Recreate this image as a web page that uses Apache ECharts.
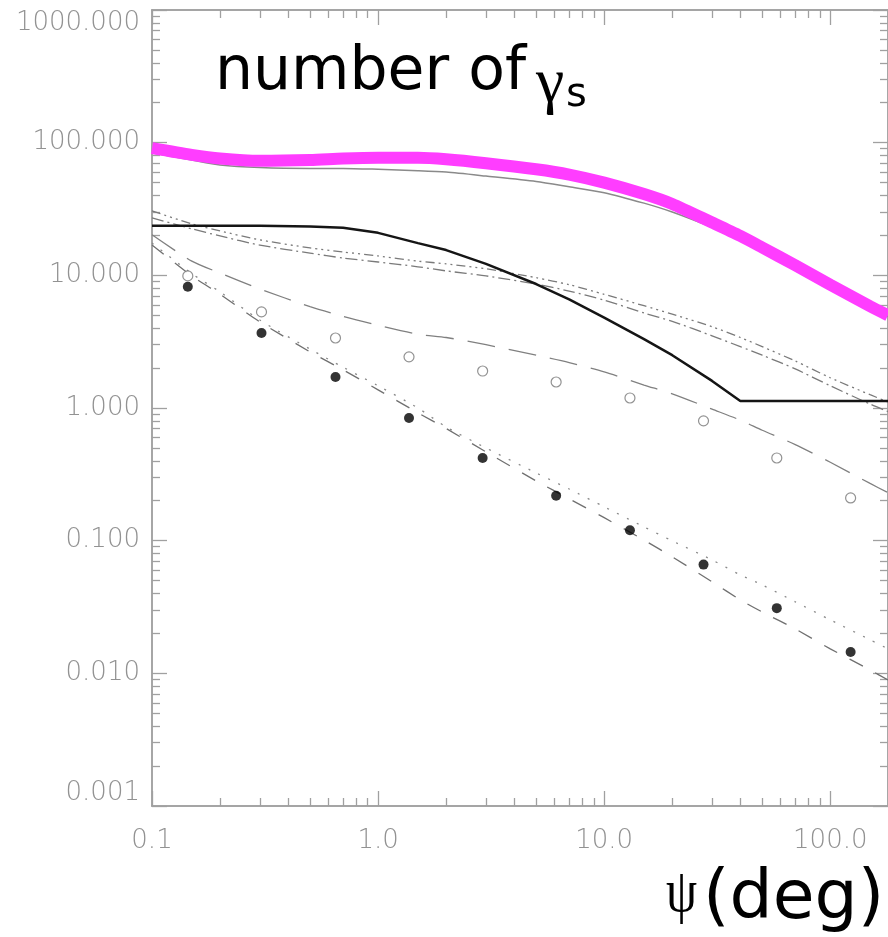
<!DOCTYPE html>
<html>
<head>
<meta charset="utf-8">
<script src="https://cdn.jsdelivr.net/npm/echarts@6.0.0/dist/echarts.min.js"></script>
<style>
html, body { margin: 0; padding: 0; background: #fff; }
#chart { width: 888px; height: 937px; }
</style>
</head>
<body>
<div id="chart"></div>
<script>
// angle grid shared by the curves (deg)
var psi = [0.1, 0.15, 0.2, 0.3, 0.5, 0.7, 1, 1.5, 2, 3, 5, 7, 10, 15, 20, 30, 40, 50, 70, 100, 150, 180];

var total      = [91, 81, 76, 73, 74, 76, 77, 77, 75, 70, 63, 57.5, 50, 41, 34.5, 25, 19.8, 16.2, 11.9, 8.5, 5.85, 5.0];
var thinSum    = [84, 74, 68, 65, 64, 64, 63, 61.5, 60, 56, 51, 46.5, 42, 35, 30, 23, 18.6, 15.5, 11.5, 8.3, 5.7, 4.9];
var blackSolid = [23.6, 23.6, 23.6, 23.6, 23.3, 22.8, 20.9, 17.5, 15.5, 12.2, 8.6, 6.6, 4.8, 3.3, 2.5, 1.6, 1.13, 1.13, 1.13, 1.13, 1.13, 1.13];
var dashDot3   = [30.6, 24.4, 21.6, 18.5, 16.1, 15.0, 14.0, 12.8, 12.2, 11.2, 9.6, 8.5, 7.2, 5.9, 5.1, 4.1, 3.4, 2.9, 2.26, 1.69, 1.26, 1.11];
var dashDot    = [27.1, 22.4, 19.8, 16.9, 14.7, 13.5, 12.6, 11.6, 10.8, 9.9, 8.6, 7.6, 6.5, 5.2, 4.5, 3.5, 2.9, 2.5, 1.97, 1.47, 1.07, 0.94];
var longDash   = [20.2, 12.8, 10.4, 7.9, 5.8, 4.9, 4.2, 3.6, 3.4, 3.0, 2.5, 2.2, 1.87, 1.49, 1.28, 0.98, 0.81, 0.68, 0.53, 0.39, 0.27, 0.23];
var dashed     = [16.9, 9.9, 7.2, 4.46, 2.65, 1.94, 1.37, 0.92, 0.70, 0.467, 0.282, 0.207, 0.149, 0.101, 0.0755, 0.049, 0.0358, 0.029, 0.0216, 0.0153, 0.0106, 0.0089];
var dotted     = [17.5, 10.3, 7.5, 4.6, 2.78, 2.03, 1.47, 1.00, 0.72, 0.50, 0.324, 0.245, 0.180, 0.127, 0.0996, 0.0716, 0.0552, 0.0464, 0.0346, 0.0253, 0.0179, 0.0153];

// symbols
var psiPts    = [0.144, 0.305, 0.648, 1.37, 2.9, 6.13, 13.0, 27.5, 58, 123];
var openPts   = [9.9, 5.3, 3.37, 2.43, 1.90, 1.57, 1.19, 0.80, 0.42, 0.21];
var filledPts = [8.2, 3.68, 1.71, 0.84, 0.42, 0.218, 0.120, 0.066, 0.031, 0.0145];

// axis ticks
var xMajor = [0.1, 1, 10, 100];
var yMajor = [0.001, 0.01, 0.1, 1, 10, 100, 1000];

function zip(xs, ys) {
    return xs.map(function (x, i) { return [x, ys[i]]; });
}
function minors(decades, upTo) {
    var out = [];
    decades.forEach(function (d) {
        for (var k = 2; k <= 9; k++) {
            var v = +(d * k).toPrecision(3);
            if (v <= upTo) out.push(v);
        }
    });
    return out;
}
var xMinor = minors([0.1, 1, 10, 100], 180);
var yMinor = minors([0.001, 0.01, 0.1, 1, 10, 100], 1000);

var axisGray = '#a0a0a0';
var labelFont = { color: '#929292', fontFamily: 'DejaVu Sans', fontWeight: 200, fontSize: 26 };

function xAx(pos, vals, len, withLabel) {
    return {
        type: 'log', logBase: 10, min: 0.1, max: 180, position: pos,
        axisLine: { show: true, lineStyle: { color: axisGray, width: 1.5 } },
        axisTick: { show: true, inside: true, length: len, customValues: vals,
            lineStyle: { color: axisGray, width: 1.3 } },
        axisLabel: withLabel ? Object.assign({
            show: true, margin: 22, customValues: xMajor,
            formatter: function (v) { return v.toFixed(1); }
        }, labelFont) : { show: false },
        minorTick: { show: false }, splitLine: { show: false }
    };
}
function yAx(pos, vals, len, withLabel) {
    return {
        type: 'log', logBase: 10, min: 0.001, max: 1000, position: pos,
        axisLine: { show: true, lineStyle: { color: axisGray, width: 1.5 } },
        axisTick: { show: true, inside: true, length: len, customValues: vals,
            lineStyle: { color: axisGray, width: 1.3 } },
        axisLabel: withLabel ? Object.assign({
            show: true, margin: 12, customValues: yMajor,
            verticalAlignMaxLabel: 'top', verticalAlignMinLabel: 'bottom',
            formatter: function (v) { return v.toFixed(3); }
        }, labelFont) : { show: false },
        minorTick: { show: false }, splitLine: { show: false }
    };
}

function curve(data, color, width, type, z) {
    return {
        type: 'line', data: zip(psi, data), showSymbol: false, symbol: 'none',
        smooth: 0.25, z: z || 2,
        lineStyle: { color: color, width: width, type: type }
    };
}

var black = curve(blackSolid, '#151515', 2.5, 'solid', 3);
black.smooth = false;

var chart = echarts.init(document.getElementById('chart'));
chart.setOption({
    animation: false,
    backgroundColor: '#fff',
    grid: { left: 152, top: 10, width: 740, height: 796, containLabel: false },
    xAxis: [
        xAx('bottom', xMajor, 15, true),
        xAx('bottom', xMinor, 8, false),
        xAx('top', xMajor, 15, false),
        xAx('top', xMinor, 8, false)
    ],
    yAxis: [
        yAx('left', yMajor, 15, true),
        yAx('left', yMinor, 8, false),
        yAx('right', yMajor, 15, false),
        yAx('right', yMinor, 8, false)
    ],
    series: [
        curve(thinSum, '#8a8a8a', 1.5, 'solid'),
        black,
        curve(dashDot3, '#7a7a7a', 1.3, [9, 4, 2, 4, 2, 4, 2, 4]),
        curve(dashDot, '#7a7a7a', 1.3, [12, 4, 2, 4]),
        curve(longDash, '#808080', 1.3, [28, 14]),
        curve(dashed, '#707070', 1.3, [15, 14]),
        curve(dotted, '#8a8a8a', 1.3, [2, 9]),
        {
            type: 'scatter', data: zip(psiPts, openPts), symbol: 'circle', symbolSize: 10, z: 4,
            itemStyle: { color: '#fff', borderColor: '#777', borderWidth: 1.2 }
        },
        {
            type: 'scatter', data: zip(psiPts, filledPts), symbol: 'circle', symbolSize: 10, z: 4,
            itemStyle: { color: '#000' }
        },
        curve(total, '#ff3dff', 12, 'solid', 5)
    ],
    graphic: [
        { type: 'text', left: 215, top: 43, z: 10,
          style: { text: 'number of', font: '60px "DejaVu Sans"', fill: '#000' } },
        { type: 'text', left: 536, top: 52, z: 10,
          style: { text: 'γ', font: '64px "Liberation Serif"', fill: '#000' } },
        { type: 'text', left: 566, top: 76, z: 10,
          style: { text: 's', font: '40px "DejaVu Sans"', fill: '#000' } },
        { type: 'text', left: 666, top: 864, z: 10, scaleX: 0.8,
          style: { text: 'ψ', font: '62px "Liberation Serif"', fill: '#000' } },
        { type: 'text', left: 703, top: 866, z: 10,
          style: { text: '(deg)', font: '68px "DejaVu Sans"', fill: '#000' } }
    ]
});
</script>
</body>
</html>
